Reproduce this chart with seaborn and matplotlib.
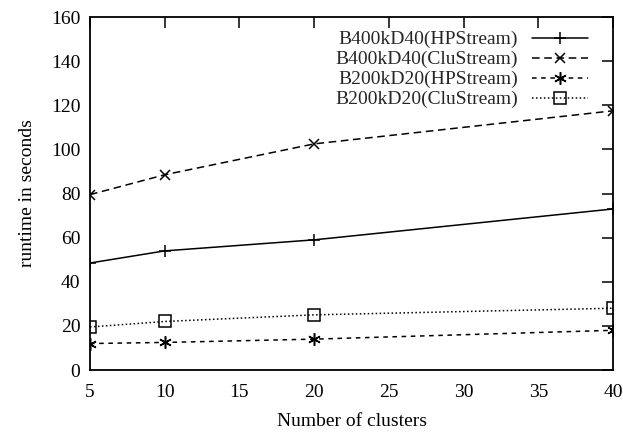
import matplotlib
matplotlib.use("Agg")
import matplotlib.pyplot as plt
import seaborn as sns
import pandas as pd

clusters = [5, 10, 20, 40]
hp_b400 = [48.5, 54.0, 59.0, 73.0]
clu_b400 = [79.5, 88.5, 102.5, 117.5]
hp_b200 = [12.0, 12.5, 14.0, 18.0]
clu_b200 = [19.5, 22.0, 25.0, 28.0]
labels = ["B400kD40(HPStream)", "B400kD40(CluStream)", "B200kD20(HPStream)", "B200kD20(CluStream)"]

sns.set_theme(style="white")
plt.rcParams['font.family'] = ['Liberation Serif', 'DejaVu Serif']

rows = []
for lab, vals in zip(labels, [hp_b400, clu_b400, hp_b200, clu_b200]):
    for c, v in zip(clusters, vals):
        rows.append({"clusters": c, "runtime": v, "series": lab})
df = pd.DataFrame(rows)

fig = plt.figure(figsize=(6.23, 4.32), dpi=100)
ax = fig.add_axes([0.1445, 0.1435, 0.8395, 0.8171])

styles = {
    labels[0]: dict(marker='+', dashes=None, ms=8),
    labels[1]: dict(marker='x', dashes=(5, 3), ms=7),
    labels[2]: dict(marker=(6, 2, 0), dashes=(3, 3), ms=9),
    labels[3]: dict(marker='s', dashes=(1, 1.6), ms=8),
}
for lab in labels:
    st = styles[lab]
    sub = df[df.series == lab]
    line_kws = dict(color='black', linewidth=1.1, marker=st['marker'], markersize=st['ms'],
                    markeredgewidth=1.1, markerfacecolor='none', markeredgecolor='black', label=lab)
    sns.lineplot(data=sub, x="clusters", y="runtime", ax=ax, **line_kws)
    ln = ax.lines[-1]
    if st['dashes'] is not None:
        ln.set_dashes(st['dashes'])
    else:
        ln.set_linestyle('-')

ax.set_xlim(5, 40)
ax.set_ylim(0, 160)
ax.set_xticks([5, 10, 15, 20, 25, 30, 35, 40])
ax.set_yticks(range(0, 161, 20))
ax.tick_params(direction='in', length=8, width=1.1, top=True, right=True, labelsize=14,
               colors='black')
ax.tick_params(axis='x', pad=10)
ax.tick_params(axis='y', pad=7)
for s in ax.spines.values():
    s.set_color('black')
    s.set_linewidth(1.3)
ax.set_xlabel("Number of clusters", fontsize=14, color='black', labelpad=9)
ax.set_ylabel("runtime in seconds", fontsize=14, color='black', labelpad=11)

leg = ax.legend(loc='upper right', bbox_to_anchor=(0.9675, 0.983), frameon=False,
                markerfirst=False, fontsize=14, handlelength=2.9, labelspacing=0.12,
                borderaxespad=0.0, handletextpad=0.7)
fig.savefig("out.png", dpi=100)
